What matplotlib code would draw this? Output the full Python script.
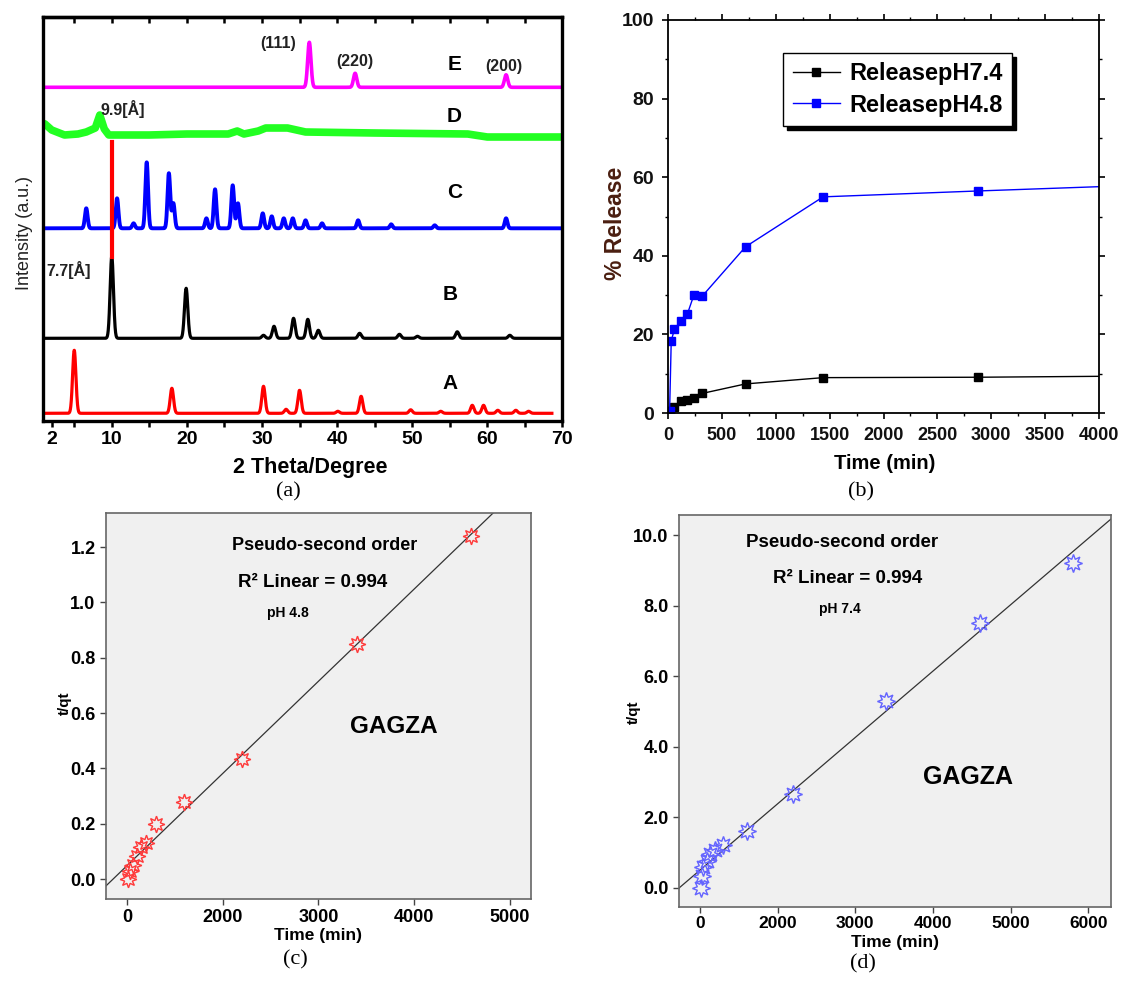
import numpy as np
import matplotlib
matplotlib.use('Agg')
import matplotlib.pyplot as plt
from matplotlib.lines import Line2D

plt.rcParams['font.family'] = ['Liberation Sans', 'DejaVu Sans']

# ---------------- data: panel (a) XRD (peak position [2theta], height [a.u.]) ----------------
a_base = 7.7
a_pos = [5.0, 18.0, 30.2, 33.2, 35.0, 40.1, 43.2, 49.8, 53.8, 58.0, 59.5, 61.4, 63.8, 65.5]
a_hgt = [63, 25, 27, 4, 23, 2, 17, 3.5, 2, 8, 8, 3, 3, 2]

b_base = 82.7
b_pos = [10.0, 19.9, 30.2, 31.6, 34.2, 36.1, 37.5, 43.0, 48.3, 50.7, 56.0, 63.0]
b_hgt = [82, 50, 3, 12, 20, 19, 8, 5, 4, 2, 6.5, 3]

c_base = 192.7
c_pos = [6.6, 10.7, 12.9, 14.65, 17.6, 18.2, 22.6, 23.75, 26.1, 26.8, 30.1, 31.3, 32.9, 34.1, 35.8, 38.0, 42.8, 47.2, 53.0, 62.5]
c_hgt = [20, 30, 5, 66, 55, 25, 10, 39, 43, 25, 15, 12, 10, 10, 8, 5, 8, 4, 3, 10]

d_x = [0.8, 1.1, 2.0, 3.7, 5.5, 6.6, 7.8, 8.4, 9.0, 9.6, 15, 20, 25.5, 26.7, 27.6, 29.5, 30.5, 33.4, 35.8, 45, 57.4, 60, 70]
d_y = [298, 297, 291, 286, 287, 289, 293, 306, 292, 286, 286, 287, 287, 290, 287, 290, 293, 293, 289, 288, 287, 284, 284]

e_base = 333.7
e_pos = [36.3, 42.4, 62.5]
e_hgt = [45, 14, 12.5]

# ---------------- data: panel (b) release ----------------
t_74 = [15, 60, 120, 180, 240, 320, 720, 1440, 2880, 4320]
r_74 = [0.6, 1.5, 3.0, 3.3, 3.9, 5.0, 7.4, 9.0, 9.1, 9.4]
t_48 = [15, 30, 60, 120, 180, 240, 320, 720, 1440, 2880, 4320]
r_48 = [0.5, 18.4, 21.3, 23.5, 25.2, 30.0, 29.8, 42.3, 55.0, 56.5, 57.9]

# ---------------- data: panels (c), (d) kinetics ----------------
c_t = [10, 35, 60, 105, 150, 195, 300, 600, 1200, 2400, 3600]
c_q = [0.0, 0.03, 0.05, 0.085, 0.115, 0.13, 0.2, 0.28, 0.435, 0.85, 1.24]
d_t = [15, 25, 45, 85, 135, 190, 300, 600, 1200, 2400, 3600, 4800]
d_q = [0.0, 0.35, 0.6, 0.75, 0.95, 1.08, 1.23, 1.6, 2.66, 5.3, 7.52, 9.22]

c_ticks = [0, 1000, 2000, 3000, 4000]
c_ticklabels = ['0', '2000', '3000', '4000', '5000']
d_ticks = [0, 1000, 2000, 3000, 4000, 5000]
d_ticklabels = ['0', '2000', '3000', '4000', '5000', '6000']

W, H = 1139, 981
fig = plt.figure(figsize=(W / 100, H / 100), dpi=100)


def px_axes(l, t, r, b):
    return fig.add_axes([l / W, 1 - b / H, (r - l) / W, (b - t) / H])


def bold_ticks(ax, size, color='black', xsize=None):
    for lab in ax.get_xticklabels():
        lab.set_fontweight('bold')
        lab.set_fontsize(xsize or size)
        lab.set_color(color)
    for lab in ax.get_yticklabels():
        lab.set_fontweight('bold')
        lab.set_fontsize(size)
        lab.set_color(color)


# ======================= panel (a) =======================
ax = px_axes(42.7, 16.7, 562.4, 421)
x = np.linspace(0.8, 70, 4000)


def pattern(base, pos, hgt, sig=0.22):
    y = np.full_like(x, base)
    for p, h in zip(pos, hgt):
        y += h * np.exp(-0.5 * ((x - p) / sig) ** 2)
    return y


ma = x <= 68.6
ax.plot(x[ma], pattern(a_base, a_pos, a_hgt)[ma], color='#ff0000', lw=2.3)
ax.plot(x, pattern(b_base, b_pos, b_hgt), color='black', lw=2.3)
ax.plot(x, pattern(c_base, c_pos, c_hgt, 0.18), color='#0000ff', lw=2.8)
ax.plot(d_x, d_y, color='#22ff22', lw=5.5, solid_joinstyle='round')
ax.plot(x, pattern(e_base, e_pos, e_hgt), color='#ff00ff', lw=2.6)
ax.plot([10.05, 10.05], [164.3, 279.3], color='#ff0000', lw=3.0)

ax.set_xlim(0.8, 70)
ax.set_ylim(0, 404.3)
ax.set_xticks([2, 10, 20, 30, 40, 50, 60, 70])
ax.set_xticks([5, 15, 25, 35, 45, 55, 65], minor=True)
ax.set_yticks([])
ax.tick_params(axis='x', which='both', direction='out', length=4, width=1.8, top=False)
sec = ax.secondary_xaxis('top')
sec.set_xticks([5, 10, 15, 20, 25, 30, 35, 40, 45, 50, 55, 60, 65])
sec.tick_params(axis='x', direction='in', length=4, width=1.8, labeltop=False)
sec.spines['top'].set_linewidth(2.4)
for sp in ax.spines.values():
    sp.set_linewidth(2.4)
bold_ticks(ax, 14)
ax.set_xlabel('2 Theta/Degree', fontsize=15.5, fontweight='bold')
ax.xaxis.set_label_coords(0.514, -0.089)
ax.set_ylabel('Intensity (a.u.)', fontsize=13, color='#222222')
ax.yaxis.set_label_coords(-0.018, 0.465)

lbl = dict(fontsize=15, fontweight='bold', ha='center', va='center')
ax.text(55.7, 356, 'E', **lbl)
ax.text(55.6, 304, 'D', **lbl)
ax.text(55.6, 229, 'C', **lbl)
ax.text(55.0, 126, 'B', **lbl)
ax.text(55.0, 37.7, 'A', **lbl)
hk = dict(fontsize=11.5, fontweight='bold', ha='center', va='center', color='#222222')
ax.text(32.2, 377.7, '(111)', **hk)
ax.text(42.4, 359.3, '(220)', **hk)
ax.text(62.2, 354.3, '(200)', **hk)
ax.text(11.4, 312, '9.9[Å]', **hk)
ax.text(1.3, 151, '7.7[Å]', fontsize=11.5, fontweight='bold', ha='left', va='center', color='#222222')

# ======================= panel (b) =======================
bx = px_axes(668, 20, 1099, 413)
bx.plot(t_74, r_74, color='black', lw=1.0, marker='s', ms=6, clip_on=True)
bx.plot(t_48, r_48, color='#0000ff', lw=1.0, marker='s', ms=6, clip_on=True)
bx.set_xlim(0, 4000)
bx.set_ylim(0, 100)
bx.set_xticks(np.arange(0, 4001, 500))
bx.set_xticks(np.arange(250, 4000, 500), minor=True)
bx.set_yticks(np.arange(0, 101, 20))
bx.set_yticks(np.arange(10, 100, 20), minor=True)
bx.tick_params(which='major', direction='out', length=4, width=1.2, top=True, right=True, pad=6)
bx.tick_params(which='minor', direction='out', length=2.5, width=1.0, top=True, right=True)
for sp in bx.spines.values():
    sp.set_linewidth(1.3)
bold_ticks(bx, 14, '#111111', xsize=13)
bx.set_ylabel('% Release', fontsize=16.5, fontweight='bold', color='#4a1e10')
bx.yaxis.set_label_coords(-0.095, 0.483)
bx.set_xlabel('Time (min)', fontsize=14.5, fontweight='bold')
bx.xaxis.set_label_coords(0.503, -0.104)
handles = [Line2D([], [], color='black', lw=1.0, marker='s', ms=6),
           Line2D([], [], color='#0000ff', lw=1.0, marker='s', ms=6)]
leg = bx.legend(handles, ['ReleasepH7.4', 'ReleasepH4.8'], loc='upper left',
                bbox_to_anchor=(0.267, 0.916), frameon=True, fancybox=False,
                shadow={'ox': 3, 'oy': -3, 'facecolor': 'black', 'edgecolor': 'black', 'alpha': 1},
                edgecolor='black', framealpha=1,
                prop=dict(family='Liberation Sans', weight='bold', size=17),
                handlelength=2.0, borderpad=0.4, labelspacing=0.35, handletextpad=0.4,
                borderaxespad=0)
leg.get_frame().set_linewidth(1.0)


# ======================= panels (c), (d) =======================
def kinetics(ax, t, q, color, xlim, ylim, xt, xtl, yt, ms):
    ax.set_facecolor('#f0f0f0')
    m, b = np.polyfit(t, q, 1)
    ax.axline((0, b), slope=m, color='#333333', lw=0.9, zorder=2)
    ax.plot(t, q, linestyle='none', marker=(8, 1, 0), ms=ms, mfc='none',
            mec=color, mew=1.0, zorder=3)
    ax.set_xlim(*xlim)
    ax.set_ylim(*ylim)
    ax.set_xticks(xt)
    ax.set_xticklabels(xtl)
    ax.set_yticks(yt)
    ax.set_yticklabels(['%.1f' % v for v in yt])
    ax.tick_params(direction='out', length=4, width=1.0, color='#444444')
    for sp in ax.spines.values():
        sp.set_linewidth(1.2)
        sp.set_color('#666666')
    bold_ticks(ax, 13)


cx = px_axes(106, 513, 531, 899)
kinetics(cx, c_t, c_q, '#ff3a3a', (-219, 4222), (-0.072, 1.323), c_ticks, c_ticklabels,
         [0.0, 0.2, 0.4, 0.6, 0.8, 1.0, 1.2], 12)
cx.set_ylabel('t/qt', fontsize=11, fontweight='bold')
cx.yaxis.set_label_coords(-0.080, 0.508)
cx.set_xlabel('Time (min)', fontsize=12.5, fontweight='bold')
cx.xaxis.set_label_coords(0.499, -0.075)
tk = dict(transform=cx.transAxes, ha='center', va='center', fontweight='bold')
cx.text(0.515, 0.917, 'Pseudo-second order', fontsize=13, **tk)
cx.text(0.487, 0.819, 'R² Linear = 0.994', fontsize=13.5, **tk)
cx.text(0.428, 0.741, 'pH 4.8', fontsize=10, **tk)
cx.text(0.678, 0.448, 'GAGZA', fontsize=17.5, **tk)

dx = px_axes(679, 515, 1111, 907)
kinetics(dx, d_t, d_q, '#6464ff', (-270, 5290), (-0.54, 10.57), d_ticks, d_ticklabels,
         [0.0, 2.0, 4.0, 6.0, 8.0, 10.0], 13)
for lab in dx.get_xticklabels():
    lab.set_fontsize(12.5)
dx.tick_params(axis='x', pad=2.5)
dx.set_ylabel('t/qt', fontsize=11, fontweight='bold')
dx.yaxis.set_label_coords(-0.088, 0.497)
dx.set_xlabel('Time (min)', fontsize=12.5, fontweight='bold')
dx.xaxis.set_label_coords(0.5, -0.071)
tk = dict(transform=dx.transAxes, ha='center', va='center', fontweight='bold')
dx.text(0.377, 0.931, 'Pseudo-second order', fontsize=13.5, **tk)
dx.text(0.391, 0.839, 'R² Linear = 0.994', fontsize=13.5, **tk)
dx.text(0.373, 0.760, 'pH 7.4', fontsize=10, **tk)
dx.text(0.669, 0.332, 'GAGZA', fontsize=18, **tk)

# captions
cap = dict(fontsize=16, ha='center', va='center', family='Liberation Serif')
fig.text(288 / W, 1 - 492 / H, '(a)', **cap)
fig.text(861 / W, 1 - 492 / H, '(b)', **cap)
fig.text(295 / W, 1 - 960 / H, '(c)', **cap)
fig.text(863 / W, 1 - 964 / H, '(d)', **cap)

fig.savefig('out.png', dpi=100)
